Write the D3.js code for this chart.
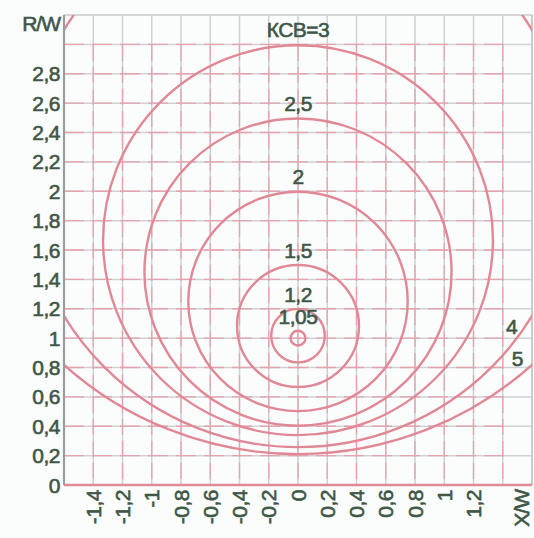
<!DOCTYPE html>
<html><head><meta charset="utf-8">
<script src="https://cdn.jsdelivr.net/npm/d3@7"></script>
<style>
html,body{margin:0;padding:0;background:#fbfcfc;}
text{font-family:"Liberation Sans",Arial,sans-serif;}
</style></head>
<body>
<svg id="chart" width="534" height="538"></svg>
<script>
// VSWR (КСВ) circles: value, centre on R/W axis, radius
const vswrValues   = [1.05, 1.2, 1.5, 2, 2.5, 3, 4, 5];
const circleCenter = [1.0, 1.017, 1.083, 1.25, 1.45, 1.667, 2.125, 2.6];
const circleRadius = [0.05, 0.183, 0.417, 0.75, 1.05, 1.333, 1.875, 2.4];
const circleLabels = ["1,05", "1,2", "1,5", "2", "2,5", "КСВ=3", "4", "5"];
const xTicks = [-1.4, -1.2, -1, -0.8, -0.6, -0.4, -0.2, 0, 0.2, 0.4, 0.6, 0.8, 1, 1.2];
const xGrid  = [-1.4, -1.2, -1, -0.8, -0.6, -0.4, -0.2, 0, 0.2, 0.4, 0.6, 0.8, 1, 1.2, 1.4];
const yTicks = [0, 0.2, 0.4, 0.6, 0.8, 1, 1.2, 1.4, 1.6, 1.8, 2, 2.2, 2.4, 2.6, 2.8];
const yGrid  = [0.2, 0.4, 0.6, 0.8, 1, 1.2, 1.4, 1.6, 1.8, 2, 2.2, 2.4, 2.6, 2.8, 3.0];
const xTitle = "X/W", yTitle = "R/W";

const fmt = v => String(+v.toFixed(2)).replace(".", ",");
const svg = d3.select("#chart");
const L = 64, R = 532, T = 15, B = 485;
const x = d3.scaleLinear().domain([-1.6, 1.6]).range([L, R]);
const y = d3.scaleLinear().domain([0, 3.2]).range([B, T]);
const textCol = "#3e5747";

svg.append("defs").append("clipPath").attr("id", "clip")
  .append("rect").attr("x", L).attr("y", T).attr("width", R - L).attr("height", B - T);

// grid
const g = svg.append("g");
g.selectAll(".vg").data(xGrid).join("line")
  .attr("x1", d => x(d)).attr("x2", d => x(d)).attr("y1", T).attr("y2", B)
  .attr("stroke", "#cfd1d4").attr("stroke-width", 1.5);
g.selectAll(".hg").data(yGrid).join("line")
  .attr("y1", d => y(d)).attr("y2", d => y(d)).attr("x1", L).attr("x2", R)
  .attr("stroke", "#cfd1d4").attr("stroke-width", 1.5);
g.selectAll(".vgp").data(xGrid).join("line")
  .attr("x1", d => x(d)).attr("x2", d => x(d)).attr("y1", T + 30).attr("y2", B)
  .attr("stroke", "#e6a3ae").attr("stroke-width", 1.3).attr("stroke-dasharray", "16,6");
g.selectAll(".hgp").data(yGrid).join("line")
  .attr("y1", d => y(d)).attr("y2", d => y(d)).attr("x1", L).attr("x2", R - 20)
  .attr("stroke", "#e6a3ae").attr("stroke-width", 1.3).attr("stroke-dasharray", "20,8");

// frame
svg.append("line").attr("x1", L).attr("x2", R).attr("y1", T).attr("y2", T)
  .attr("stroke", "#d4d6d8").attr("stroke-width", 2);
svg.append("line").attr("x1", R).attr("x2", R).attr("y1", T).attr("y2", B)
  .attr("stroke", "#c9cbce").attr("stroke-width", 2);

// circles
const data = vswrValues.map((v, i) => ({v, c: circleCenter[i], r: circleRadius[i], label: circleLabels[i]}));
svg.append("g").attr("clip-path", "url(#clip)")
  .selectAll("circle").data(data).join("circle")
  .attr("cx", x(0)).attr("cy", d => y(d.c))
  .attr("r", d => x(d.r) - x(0))
  .attr("fill", "none").attr("stroke", "#e08896").attr("stroke-width", 2.4);

// axes lines
svg.append("line").attr("x1", L).attr("x2", L).attr("y1", T).attr("y2", B)
  .attr("stroke", "#9a9c9e").attr("stroke-width", 2.2);
svg.append("line").attr("x1", L).attr("x2", R).attr("y1", B).attr("y2", B)
  .attr("stroke", "#e08a98").attr("stroke-width", 2.4);

function styleText(sel) {
  return sel.attr("font-size", 21).attr("fill", textCol)
    .attr("stroke", textCol).attr("stroke-width", 0.6).attr("letter-spacing", -0.5);
}

// y tick labels
styleText(svg.append("g").selectAll("text").data(yTicks).join("text")
  .attr("x", 60).attr("y", d => y(d)).attr("dy", "0.36em")
  .attr("text-anchor", "end"))
  .text(fmt);
styleText(svg.append("text").attr("x", 60).attr("y", 23).attr("dy", "0.36em")
  .attr("text-anchor", "end")).attr("letter-spacing", -1).text(yTitle);

// x tick labels (rotated)
styleText(svg.append("g").selectAll("text").data(xTicks).join("text")
  .attr("transform", d => `translate(${x(d)},490) rotate(-90)`)
  .attr("dy", "0.36em").attr("text-anchor", "end"))
  .text(fmt);
styleText(svg.append("text").attr("transform", `translate(${x(1.53)},490) rotate(-90)`)
  .attr("dy", "0.36em").attr("text-anchor", "end")).attr("letter-spacing", -1).text(xTitle);

// circle labels
const lab = svg.append("g");
data.filter(d => d.v <= 3).forEach(d => {
  styleText(lab.append("text").attr("x", x(0)).attr("y", y(d.c + d.r) - 7)
    .attr("text-anchor", "middle")).text(d.label);
});
data.filter(d => d.v > 3).forEach((d, i) => {
  const xv = i === 0 ? 1.46 : 1.5;
  const yv = d.c - Math.sqrt(d.r * d.r - xv * xv);
  styleText(lab.append("text").attr("x", x(xv)).attr("y", y(yv) - 12)
    .attr("text-anchor", "middle")).text(d.label);
});
</script>
</body></html>
